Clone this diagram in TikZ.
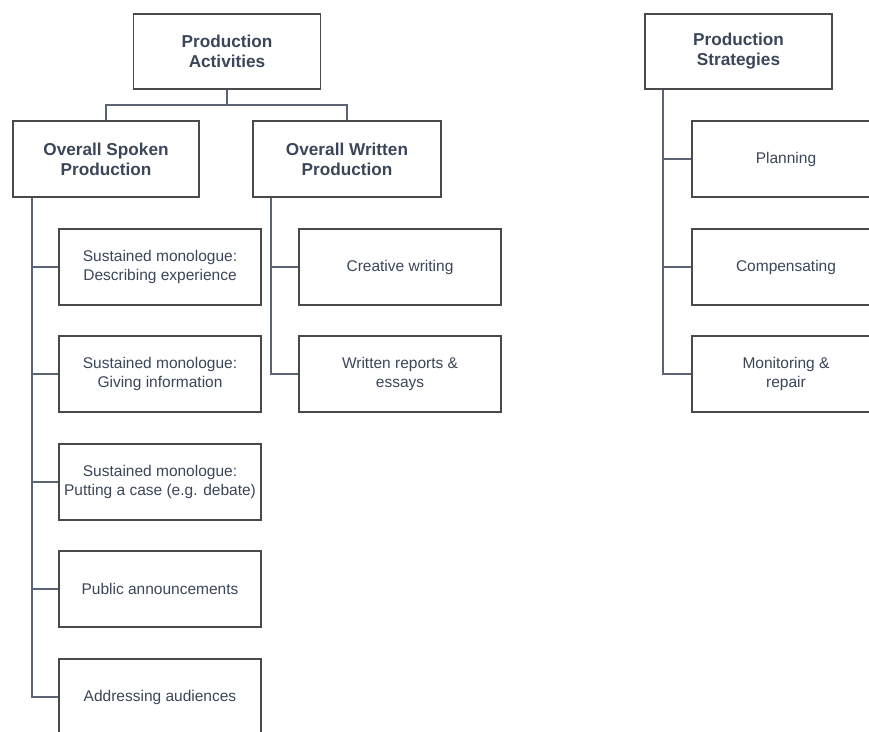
\documentclass[tikz,border=0pt]{standalone}
\usepackage{fontspec}
\setmainfont{Liberation Sans}
\definecolor{txt}{HTML}{3B4659}
\definecolor{bord}{HTML}{4A4A4A}
\definecolor{conn}{HTML}{5A6474}
\begin{document}
\begin{tikzpicture}[x=1pt,y=-1pt,
  box/.style={draw=bord,line width=1.4pt,fill=white,text=txt,align=center,inner sep=0pt},
  head/.style={box,minimum width=187pt,minimum height=75pt,font=\fontsize{17.2}{20}\selectfont\bfseries},
  leaf/.style={box,minimum width=202pt,minimum height=76pt,font=\fontsize{15.5}{18.5}\selectfont},
  sleaf/.style={box,minimum width=188pt,minimum height=76pt,font=\fontsize{15.5}{18.5}\selectfont},
  link/.style={draw=conn,line width=1.4pt}]
\useasboundingbox (0,0) rectangle (869,731);
\clip (0,0) rectangle (869,731);
\fill[white] (0,0) rectangle (869,731);
% heads
\node[head] (PA) at (227,51.5) {Production\\Activities};
\node[head] (PS) at (738.5,51.5) {Production\\Strategies};
\node[head,minimum width=186pt,minimum height=76pt] (OSP) at (106,159) {Overall Spoken\\Production};
\node[head,minimum width=188pt,minimum height=76pt] (OWP) at (347,159) {Overall Written\\Production};
% spoken
\node[leaf] (s1) at (160,267) {Sustained monologue:\\Describing experience};
\node[leaf] (s2) at (160,374) {Sustained monologue:\\Giving information};
\node[leaf] (s3) at (160,482) {Sustained monologue:\\Putting a case (e.g. debate)};
\node[leaf] (s4) at (160,589) {Public announcements};
\node[leaf] (s5) at (160,697) {Addressing audiences};
% written
\node[leaf] (w1) at (400,267) {Creative writing};
\node[leaf] (w2) at (400,374) {Written reports \&\\essays};
% strategies
\node[sleaf] (t1) at (786,159) {Planning};
\node[sleaf] (t2) at (786,267) {Compensating};
\node[sleaf] (t3) at (786,374) {Monitoring \&\\repair};
% connectors
\coordinate (j) at (227,105);
\coordinate (sx) at (32,0);
\coordinate (wx) at (271,0);
\coordinate (tx) at (663,0);
\draw[link] (PA.south) -- (j) -| (OSP.north);
\draw[link] (j) -| (OWP.north);
\draw[link] (OSP.south -| sx) |- (s5.west);
\foreach \n in {s1,s2,s3,s4} \draw[link] (\n.west -| sx) -- (\n.west);
\draw[link] (OWP.south -| wx) |- (w2.west);
\draw[link] (w1.west -| wx) -- (w1.west);
\draw[link] (PS.south -| tx) |- (t3.west);
\foreach \n in {t1,t2} \draw[link] (\n.west -| tx) -- (\n.west);
\end{tikzpicture}
\end{document}
